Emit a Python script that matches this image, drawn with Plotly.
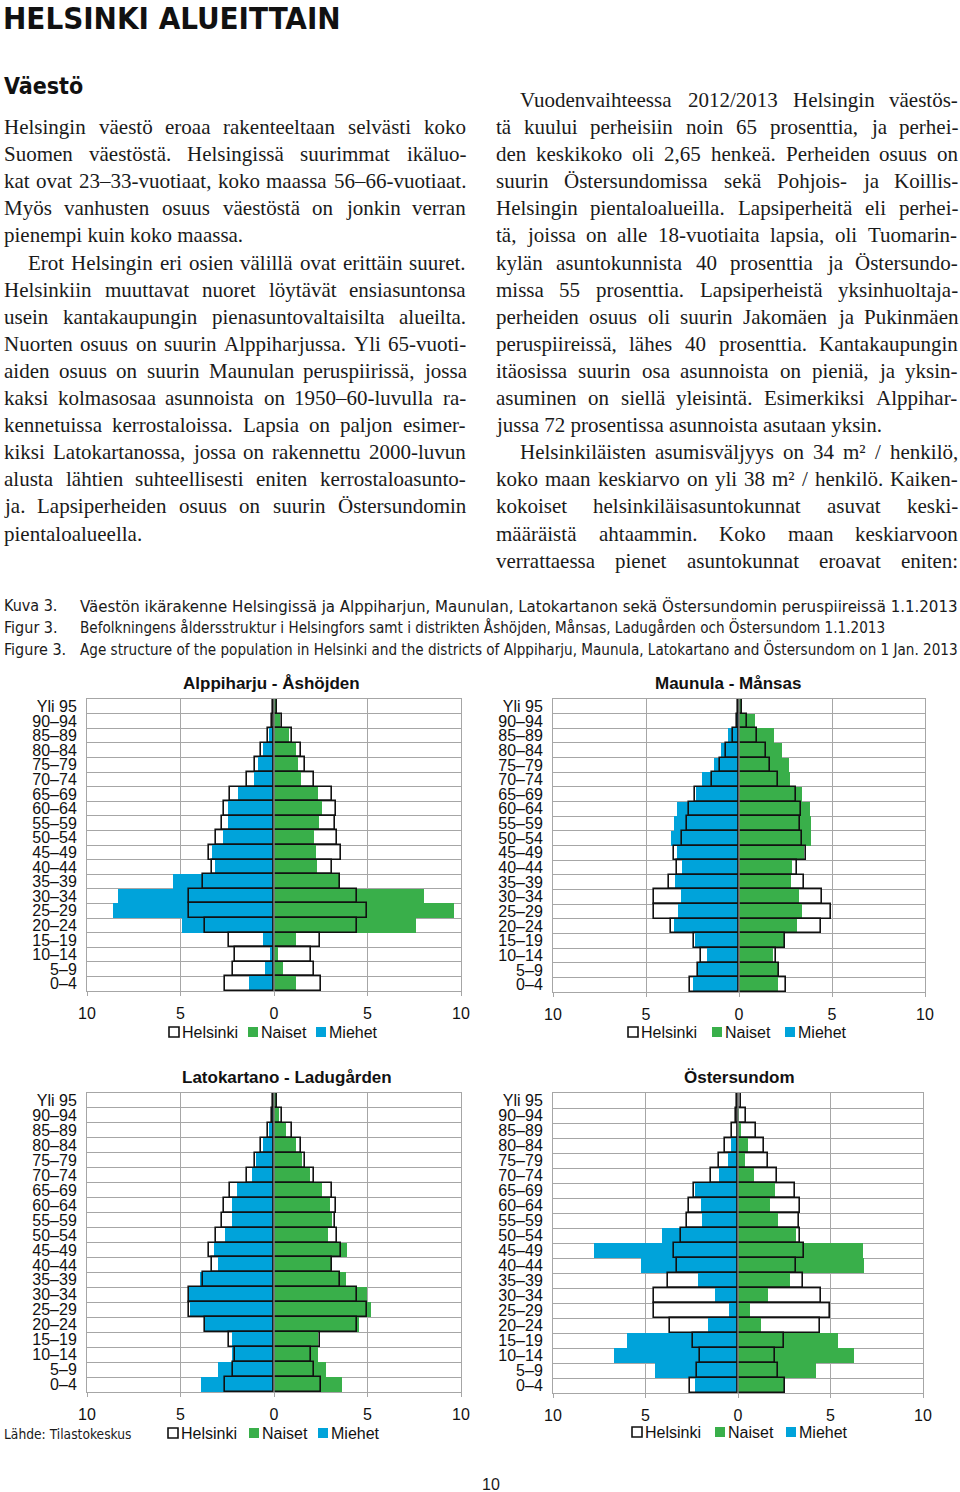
import plotly.graph_objects as go

W, H = 960, 1492

# ---------------- data ----------------
age_groups = ["Yli 95", "90–94", "85–89", "80–84", "75–79", "70–74", "65–69",
              "60–64", "55–59", "50–54", "45–49", "40–44", "35–39", "30–34",
              "25–29", "20–24", "15–19", "10–14", "5–9", "0–4"]

x_tickvals = [-10, -5, 0, 5, 10]
x_ticktext = ["10", "5", "0", "5", "10"]

helsinki_men = [0.07, 0.12, 0.32, 0.68, 1.02, 1.44, 2.37, 2.67, 2.78, 3.08,
                3.48, 3.32, 3.78, 4.55, 4.55, 3.67, 2.41, 2.07, 2.21, 2.62]
helsinki_women = [0.17, 0.45, 0.96, 1.43, 1.64, 2.12, 3.08, 3.33, 3.28, 3.37,
                  3.58, 3.12, 3.51, 4.46, 4.97, 4.42, 2.48, 1.98, 2.14, 2.53]

alppiharju_men = [0.05, 0.05, 0.27, 0.59, 0.86, 1.09, 1.91, 2.44, 2.44, 2.71,
                  3.30, 3.16, 5.42, 8.32, 8.63, 4.90, 0.61, 0.20, 0.46, 1.34]
alppiharju_women = [0.10, 0.30, 0.80, 1.18, 1.27, 1.43, 2.34, 2.55, 2.41, 2.12,
                    2.23, 2.28, 3.51, 8.02, 9.63, 7.61, 1.19, 0.23, 0.46, 1.19]

maunula_men = [0.03, 0.16, 0.59, 0.98, 1.34, 1.98, 2.30, 3.32, 3.48, 3.63,
               3.34, 3.09, 3.45, 3.14, 3.29, 3.52, 2.39, 1.73, 2.18, 2.48]
maunula_women = [0.10, 0.86, 1.89, 2.32, 2.68, 2.73, 3.39, 3.82, 3.88, 3.89,
                 3.48, 2.84, 2.79, 3.21, 3.39, 3.13, 2.46, 1.84, 2.14, 2.11]

latokartano_men = [0.05, 0.10, 0.27, 0.59, 0.94, 1.19, 1.98, 2.22, 2.26, 2.60,
                   3.22, 2.99, 3.97, 4.54, 4.50, 3.67, 2.24, 2.26, 2.97, 3.91]
latokartano_women = [0.10, 0.25, 0.66, 1.16, 1.48, 1.90, 2.54, 3.02, 3.11, 2.90,
                     3.90, 3.11, 3.83, 4.96, 5.21, 4.57, 2.35, 2.37, 2.76, 3.65]

ostersundom_men = [0.00, 0.05, 0.05, 0.36, 0.56, 1.03, 2.30, 1.99, 1.95, 4.12,
                   7.76, 5.23, 2.18, 1.23, 0.47, 1.62, 6.01, 6.68, 4.49, 2.31]
ostersundom_women = [0.00, 0.05, 0.16, 0.54, 0.40, 0.88, 2.00, 1.73, 2.15, 3.16,
                     6.75, 6.79, 2.82, 1.64, 0.65, 1.26, 5.38, 6.28, 4.24, 2.55]

chart_titles = ["Alppiharju - Åshöjden", "Maunula - Månsas",
                "Latokartano - Ladugården", "Östersundom"]
legend_labels = ["Helsinki", "Naiset", "Miehet"]

heading = "HELSINKI ALUEITTAIN"
subheading = "Väestö"
left_lines = [
    "Helsingin väestö eroaa rakenteeltaan selvästi koko",
    "Suomen väestöstä. Helsingissä suurimmat ikäluo-",
    "kat ovat 23–33-vuotiaat, koko maassa 56–66-vuotiaat.",
    "Myös vanhusten osuus väestöstä on jonkin verran",
    "pienempi kuin koko maassa.",
    "Erot Helsingin eri osien välillä ovat erittäin suuret.",
    "Helsinkiin muuttavat nuoret löytävät ensiasuntonsa",
    "usein kantakaupungin pienasuntovaltaisilta alueilta.",
    "Nuorten osuus on suurin Alppiharjussa. Yli 65-vuoti-",
    "aiden osuus on suurin Maunulan peruspiirissä, jossa",
    "kaksi kolmasosaa asunnoista on 1950–60-luvulla ra-",
    "kennetuissa kerrostaloissa. Lapsia on paljon esimer-",
    "kiksi Latokartanossa, jossa on rakennettu 2000-luvun",
    "alusta lähtien suhteellisesti eniten kerrostaloasunto-",
    "ja. Lapsiperheiden osuus on suurin Östersundomin",
    "pientaloalueella.",
]
left_indent = [False] * 5 + [True] + [False] * 10
left_last = [False] * 4 + [True] + [False] * 10 + [True]
right_lines = [
    "Vuodenvaihteessa 2012/2013 Helsingin väestös-",
    "tä kuului perheisiin noin 65 prosenttia, ja perhei-",
    "den keskikoko oli 2,65 henkeä. Perheiden osuus on",
    "suurin Östersundomissa sekä Pohjois- ja Koillis-",
    "Helsingin pientaloalueilla. Lapsiperheitä eli perhei-",
    "tä, joissa on alle 18-vuotiaita lapsia, oli Tuomarin-",
    "kylän asuntokunnista 40 prosenttia ja Östersundo-",
    "missa 55 prosenttia. Lapsiperheistä yksinhuoltaja-",
    "perheiden osuus oli suurin Jakomäen ja Pukinmäen",
    "peruspiireissä, lähes 40 prosenttia. Kantakaupungin",
    "itäosissa suurin osa asunnoista on pieniä, ja yksin-",
    "asuminen on siellä yleisintä. Esimerkiksi Alppihar-",
    "jussa 72 prosentissa asunnoista asutaan yksin.",
    "Helsinkiläisten asumisväljyys on 34 m² / henkilö,",
    "koko maan keskiarvo on yli 38 m² / henkilö. Kaiken-",
    "kokoiset helsinkiläisasuntokunnat asuvat keski-",
    "määräistä ahtaammin. Koko maan keskiarvoon",
    "verrattaessa pienet asuntokunnat eroavat eniten:",
]
right_indent = [True] + [False] * 12 + [True] + [False] * 4
right_last = [False] * 12 + [True] + [False] * 5
caption_labels = ["Kuva 3.", "Figur 3.", "Figure 3."]
caption_texts = [
    "Väestön ikärakenne Helsingissä ja Alppiharjun, Maunulan, Latokartanon sekä Östersundomin peruspiireissä 1.1.2013",
    "Befolkningens åldersstruktur i Helsingfors samt i distrikten Åshöjden, Månsas, Ladugården och Östersundom 1.1.2013",
    "Age structure of the population in Helsinki and the districts of Alppiharju, Maunula, Latokartano and Östersundom on 1 Jan. 2013",
]
source_text = "Lähde: Tilastokeskus"
page_number = "10"

# ---------------- styles ----------------
GREEN = "#39AF4A"
BLUE = "#00A3DA"
GRID = "#A6A6A6"
SANS = "Liberation Sans, Arial, Helvetica, sans-serif"
NARROW = "DejaVu Sans Condensed, DejaVu Sans, sans-serif"
SERIF = "Liberation Serif, Times New Roman, serif"
BODY_SIZE = 21
caption_sizes = [16.7, 15.1, 15.1]

# approximate advance widths of Liberation Serif (1/1000 em), used to justify lines
SERIF_W = {
    " ": 250, ".": 250, ",": 250, "-": 333, "–": 500, "/": 278, ":": 278, "²": 300,
    "a": 444, "b": 500, "c": 444, "d": 500, "e": 444, "f": 333, "g": 500, "h": 500,
    "i": 278, "j": 278, "k": 500, "l": 278, "m": 778, "n": 500, "o": 500, "p": 500,
    "q": 500, "r": 333, "s": 389, "t": 278, "u": 500, "v": 500, "w": 722, "x": 500,
    "y": 500, "z": 444, "ä": 444, "ö": 500, "å": 444,
    "A": 722, "B": 667, "C": 667, "D": 722, "E": 611, "F": 556, "G": 722, "H": 722,
    "I": 333, "J": 389, "K": 722, "L": 611, "M": 889, "N": 722, "O": 722, "P": 556,
    "Q": 722, "R": 667, "S": 556, "T": 611, "U": 722, "V": 722, "W": 944, "X": 722,
    "Y": 722, "Z": 611, "Ö": 722, "Ä": 722,
}


def word_width(s, size):
    return sum(SERIF_W.get(ch, 500) for ch in s) / 1000.0 * size


def px(x):
    return x / W


def py(y):
    return 1 - y / H


annotations = []
shapes = []


def add_text_line(line, x0, x1, y, justify):
    words = line.split(" ")
    if not justify or len(words) < 2:
        annotations.append(dict(text=line, x=px(x0), y=py(y), xref="paper", yref="paper",
                                showarrow=False, xanchor="left", yanchor="middle",
                                borderpad=0,
                                font=dict(family=SERIF, size=BODY_SIZE, color="#1a1a1a")))
        return
    widths = [word_width(w, BODY_SIZE) for w in words]
    gap = (x1 - x0 - sum(widths)) / (len(words) - 1)
    x = x0
    for w, ww in zip(words, widths):
        annotations.append(dict(text=w, x=px(x), y=py(y), xref="paper", yref="paper",
                                showarrow=False, xanchor="left", yanchor="middle",
                                borderpad=0,
                                font=dict(family=SERIF, size=BODY_SIZE, color="#1a1a1a")))
        x += ww + gap


# pixel boxes of the four plot areas: (left, right, top, bottom)
boxes = [(87, 461, 699, 991), (553, 925, 699, 992),
         (87, 461, 1093, 1392), (553, 923, 1093, 1393)]
title_pos = [(271, 683), (728, 683), (287, 1077), (739, 1077)]
legend_pos = [(169, 1032), (628, 1032), (168, 1433), (632, 1432)]
legend_steps = [(79, 147), (84, 157), (81, 150), (83, 154)]
district_men = [alppiharju_men, maunula_men, latokartano_men, ostersundom_men]
district_women = [alppiharju_women, maunula_women, latokartano_women, ostersundom_women]

fig = go.Figure()

for i in range(4):
    ax = "" if i == 0 else str(i + 1)
    xa, ya = "x" + ax, "y" + ax
    men_neg = [-v for v in district_men[i]]
    hel_neg = [-v for v in helsinki_men]
    fig.add_trace(go.Bar(y=age_groups, x=men_neg, orientation="h", name="Miehet",
                         marker=dict(color=BLUE, line=dict(width=0)),
                         xaxis=xa, yaxis=ya, showlegend=False))
    fig.add_trace(go.Bar(y=age_groups, x=district_women[i], orientation="h", name="Naiset",
                         marker=dict(color=GREEN, line=dict(width=0)),
                         xaxis=xa, yaxis=ya, showlegend=False))
    fig.add_trace(go.Bar(y=age_groups, x=hel_neg, orientation="h", name="Helsinki",
                         marker=dict(color="rgba(0,0,0,0)", line=dict(color="#111111", width=1.6)),
                         xaxis=xa, yaxis=ya, showlegend=False))
    fig.add_trace(go.Bar(y=age_groups, x=helsinki_women, orientation="h", name="Helsinki",
                         marker=dict(color="rgba(0,0,0,0)", line=dict(color="#111111", width=1.6)),
                         xaxis=xa, yaxis=ya, showlegend=False))

    l, r, t, b = boxes[i]
    fig.update_layout(**{
        "xaxis" + ax: dict(domain=[px(l), px(r)], anchor=ya, range=[-10, 10],
                           tickmode="array", tickvals=x_tickvals, ticktext=x_ticktext,
                           showgrid=True, gridcolor=GRID, gridwidth=1,
                           zeroline=False, showline=True, mirror=True,
                           linecolor=GRID, linewidth=1,
                           ticks="outside", ticklen=4, tickcolor=GRID,
                           ticklabelstandoff=4, automargin=False,
                           tickfont=dict(family=SANS, size=16, color="#111111"),
                           fixedrange=True),
        "yaxis" + ax: dict(domain=[py(b), py(t)], anchor=xa, type="category",
                           categoryorder="array", categoryarray=age_groups[::-1],
                           tickmode="array", tickvals=age_groups, ticktext=age_groups,
                           tickson="boundaries", showgrid=True, gridcolor=GRID,
                           gridwidth=1, ticks="", showline=True, mirror=True,
                           linecolor=GRID, linewidth=1, ticklabelstandoff=6,
                           automargin=False,
                           tickfont=dict(family=SANS, size=16, color="#111111"),
                           fixedrange=True),
    })
    # zero axis line on top of the bars
    shapes.append(dict(type="line", xref=xa, yref=ya + " domain", x0=0, x1=0, y0=0, y1=1,
                       line=dict(color="#7f7f7f", width=1.5), layer="above"))

    tx, ty = title_pos[i]
    annotations.append(dict(text="<b>" + chart_titles[i] + "</b>", x=px(tx), y=py(ty),
                            xref="paper", yref="paper", showarrow=False,
                            xanchor="center", yanchor="middle",
                            font=dict(family=SANS, size=17, color="#111111")))

    # legend (drawn manually to match the compact spacing)
    lx, ly = legend_pos[i]
    s1, s2 = legend_steps[i]
    sq_x = [lx, lx + s1, lx + s2]
    fills = ["white", GREEN, BLUE]
    for k in range(3):
        sx = sq_x[k]
        shapes.append(dict(type="rect", xref="paper", yref="paper",
                           x0=px(sx), x1=px(sx + 10), y0=py(ly + 5), y1=py(ly - 5),
                           fillcolor=fills[k],
                           line=dict(color="#111111" if k == 0 else fills[k],
                                     width=1.6 if k == 0 else 0)))
        annotations.append(dict(text=legend_labels[k], x=px(sx + 11), y=py(ly),
                                xref="paper", yref="paper", showarrow=False,
                                xanchor="left", yanchor="middle",
                                font=dict(family=SANS, size=16, color="#111111")))

# ---------------- page text ----------------
annotations.append(dict(text="<b>" + heading + "</b>", x=px(1), y=py(18), xref="paper", yref="paper",
                        showarrow=False, xanchor="left", yanchor="middle",
                        font=dict(family=NARROW, size=31, color="#111111")))
annotations.append(dict(text="<b>" + subheading + "</b>", x=px(2), y=py(86), xref="paper", yref="paper",
                        showarrow=False, xanchor="left", yanchor="middle",
                        font=dict(family=NARROW, size=23, color="#111111")))

line_step = 27.1
for j, line in enumerate(left_lines):
    add_text_line(line, 27 if left_indent[j] else 3, 465, 127 + j * line_step, not left_last[j])
for j, line in enumerate(right_lines):
    add_text_line(line, 519 if right_indent[j] else 495, 957, 100 + j * line_step, not right_last[j])

for j in range(3):
    yy = 606 + j * 21.5
    annotations.append(dict(text=caption_labels[j], x=px(2), y=py(yy), xref="paper", yref="paper",
                            showarrow=False, xanchor="left", yanchor="middle",
                            font=dict(family=NARROW, size=16.0, color="#1a1a1a")))
    annotations.append(dict(text=caption_texts[j], x=px(78), y=py(yy), xref="paper", yref="paper",
                            showarrow=False, xanchor="left", yanchor="middle",
                            font=dict(family=NARROW, size=caption_sizes[j], color="#1a1a1a")))

annotations.append(dict(text=source_text, x=px(2), y=py(1434), xref="paper", yref="paper",
                        showarrow=False, xanchor="left", yanchor="middle",
                        font=dict(family=NARROW, size=13.7, color="#1a1a1a")))
annotations.append(dict(text=page_number, x=px(491), y=py(1484), xref="paper", yref="paper",
                        showarrow=False, xanchor="center", yanchor="middle",
                        font=dict(family=SANS, size=16, color="#1a1a1a")))

fig.update_layout(
    template="none",
    width=W, height=H, margin=dict(l=0, r=0, t=0, b=0, pad=0, autoexpand=False),
    paper_bgcolor="white", plot_bgcolor="white",
    barmode="overlay", bargap=0, showlegend=False,
    annotations=annotations, shapes=shapes,
    font=dict(family=SANS, color="#111111"),
)

fig.write_html("out.html", config={"displayModeBar": False},
               post_script="document.body.style.margin='0';")
